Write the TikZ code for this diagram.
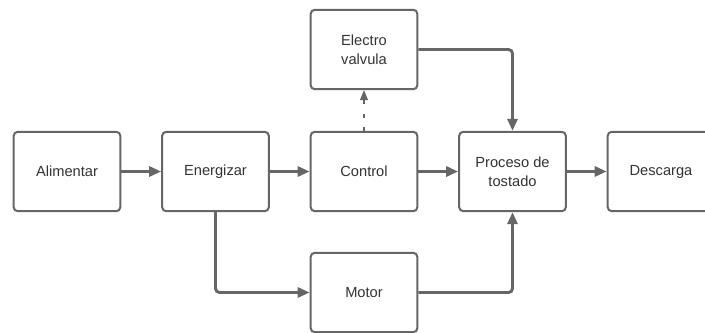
\documentclass[tikz,border=0pt]{standalone}
\usepackage{fontspec}
\setmainfont{Liberation Sans}
\usetikzlibrary{arrows.meta}
\definecolor{linegray}{HTML}{666666}
\definecolor{textgray}{HTML}{333333}
\begin{document}
\begin{tikzpicture}[x=0.75pt,y=-0.75pt,
  blk/.style={draw=linegray, line width=1.5pt, rounded corners=3pt, fill=white,
    minimum width=80pt, minimum height=59.5pt, inner sep=0pt,
    font=\fontsize{11pt}{14pt}\selectfont, text=textgray, align=center},
  flow/.style={draw=linegray, line width=2.2pt, rounded corners=3pt,
    -{Triangle[length=9pt,width=7.5pt]}},
  ctrl/.style={draw=linegray, line width=0.8pt, dash pattern=on 3pt off 7pt,
    -{Triangle[length=7.5pt,width=6pt]}}]
\useasboundingbox (0,0) rectangle (705,332);
\clip (0,0) rectangle (705,332);
\node[blk] (ali) at (67,171.5) {Alimentar};
\node[blk] (ene) at (215.5,171.5) {Energizar};
\node[blk] (con) at (364,171.5) {Control};
\node[blk] (ele) at (364,49.5) {Electro\\valvula};
\node[blk] (pro) at (512.5,171.5) {Proceso de\\tostado};
\node[blk] (des) at (661,171.5) {Descarga};
\node[blk] (mot) at (364,292.5) {Motor};
\draw[flow] (ali) -- (ene);
\draw[flow] (ene) -- (con);
\draw[flow] (con) -- (pro);
\draw[flow] (pro) -- (des);
\draw[flow] (ene.south) |- (mot.west);
\draw[flow] (mot.east) -| (pro.south);
\draw[flow] (ele.east) -| (pro.north);
\draw[ctrl] (con.north) -- (ele.south);
\end{tikzpicture}
\end{document}
